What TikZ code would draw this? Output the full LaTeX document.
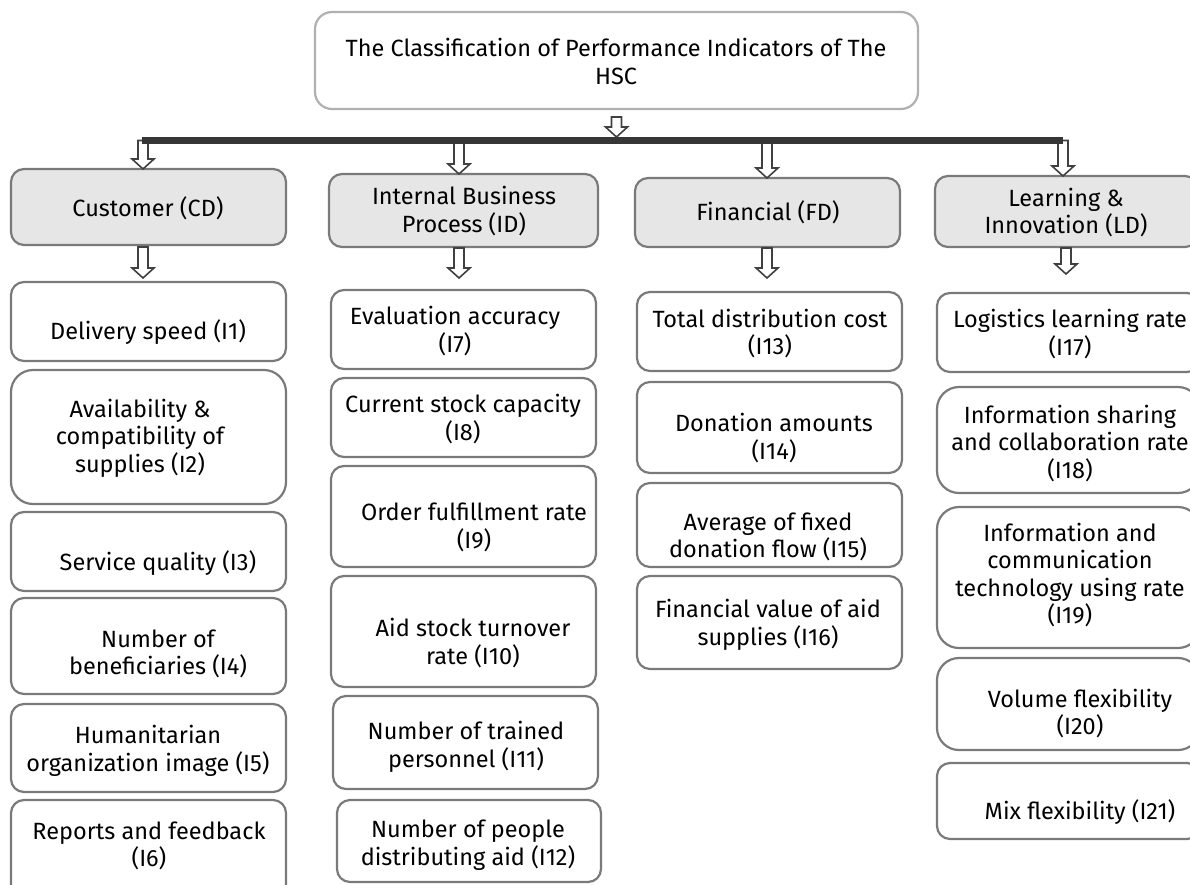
\documentclass[tikz,border=0pt]{standalone}
\usepackage{fontspec}
\setmainfont{Fira Sans}
\usetikzlibrary{calc}
\definecolor{boxgray}{HTML}{7A7A7A}
\definecolor{titlegray}{HTML}{B0B0B0}
\definecolor{hdrfill}{HTML}{E6E6E6}
\definecolor{bargray}{HTML}{363636}
\definecolor{arrgray}{HTML}{404040}
\newcommand\mkbox[6]{\node[#6, minimum width={(#4)-(#2)}, minimum height={(#5)-(#3)}] (#1) at ({((#2)+(#4))/2},{((#3)+(#5))/2}) {};}
\newcommand\mktxt[4]{\node[txt] (#1) at (#2,#3) {#4};}
\newcommand\blkarrow[2]{\draw[blockarr] let \p1=#1, \p2=#2 in (\x1-5pt,\y1) -- (\x1+5pt,\y1) -- (\x1+5pt,\y2+10pt) -- (\x1+11pt,\y2+10pt) -- (\x1,\y2) -- (\x1-11pt,\y2+10pt) -- (\x1-5pt,\y2+10pt) -- cycle;}
\begin{document}
\begin{tikzpicture}[x=1pt,y=-1pt,
  box/.style={draw=boxgray, line width=2.2pt, rounded corners=13pt, fill=white, inner sep=0pt, outer sep=0pt},
  bigbox/.style={box, rounded corners=22pt},
  hdr/.style={box, fill=hdrfill},
  ttl/.style={box, draw=titlegray, rounded corners=17pt},
  txt/.style={align=center, inner sep=0pt, font=\fontsize{23.5}{27.5}\selectfont},
  blockarr/.style={draw=arrgray, line width=1.6pt, fill=white, line join=miter},
  bar/.style={draw=bargray, line width=6.5pt}]
\useasboundingbox (0,0) rectangle (1190,884);
\clip (0,0) rectangle (1190,884);
% title
\mkbox{T}{315}{12}{918}{109}{ttl}
\mktxt{Tt}{616}{61.5}{The Classification of Performance Indicators of The\\HSC}
% headers
\mkbox{CD}{11}{169}{286}{245}{hdr}
\mktxt{CDt}{148}{208}{Customer (CD)}
\mkbox{ID}{329}{174}{598}{247}{hdr}
\mktxt{IDt}{464}{211}{Internal Business\\Process (ID)}
\mkbox{FD}{635}{178}{900}{247}{hdr}
\mktxt{FDt}{768}{212}{Financial (FD)}
\mkbox{LD}{935}{176}{1198}{247}{hdr}
\mktxt{LDt}{1066}{212.5}{Learning \&\\Innovation (LD)}
% column 1
\mkbox{I1}{11}{282}{286}{361}{box}
\mktxt{I1t}{148}{332}{Delivery speed (I1)}
\mkbox{I2}{11}{370}{286}{504}{bigbox}
\mktxt{I2t}{140}{438}{Availability \&\\compatibility of\\supplies (I2)}
\mkbox{I3}{11}{512}{286}{591}{box}
\mktxt{I3t}{158}{563}{Service quality (I3)}
\mkbox{I4}{11}{598}{286}{694}{box}
\mktxt{I4t}{158}{654}{Number of\\beneficiaries (I4)}
\mkbox{I5}{11}{704}{286}{792}{box}
\mktxt{I5t}{148}{751}{Humanitarian\\organization image (I5)}
\mkbox{I6}{11}{800}{286}{900}{box}
\mktxt{I6t}{149}{846}{Reports and feedback\\(I6)}
% column 2
\mkbox{I7}{331}{290}{596}{369}{box}
\mktxt{I7t}{455}{331}{Evaluation accuracy\\(I7)}
\mkbox{I8}{331}{378}{596}{457}{box}
\mktxt{I8t}{463}{419}{Current stock capacity\\(I8)}
\mkbox{I9}{331}{466}{596}{567}{box}
\mktxt{I9t}{474}{527.5}{Order fulfillment rate\\(I9)}
\mkbox{I10}{331}{576}{596}{687}{box}
\mktxt{I10t}{473}{643}{Aid stock turnover\\rate (I10)}
\mkbox{I11}{333}{696}{598}{789}{box}
\mktxt{I11t}{466}{747}{Number of trained\\personnel (I11)}
\mkbox{I12}{337}{800}{601}{882}{box}
\mktxt{I12t}{468}{845}{Number of people\\distributing aid (I12)}
% column 3
\mkbox{I13}{637}{292}{902}{371}{box}
\mktxt{I13t}{770}{333.5}{Total distribution cost\\(I13)}
\mkbox{I14}{637}{382}{902}{473}{box}
\mktxt{I14t}{774}{438}{Donation amounts\\(I14)}
\mkbox{I15}{637}{483}{902}{567}{box}
\mktxt{I15t}{768}{537}{Average of fixed\\donation flow (I15)}
\mkbox{I16}{637}{576}{902}{669}{box}
\mktxt{I16t}{768}{625}{Financial value of aid\\supplies (I16)}
% column 4
\mkbox{I17}{937}{293}{1200}{372}{box}
\mktxt{I17t}{1070}{334}{Logistics learning rate\\(I17)}
\mkbox{I18}{937}{387}{1200}{493}{bigbox}
\mktxt{I18t}{1070}{443.5}{Information sharing\\and collaboration rate\\(I18)}
\mkbox{I19}{937}{507}{1200}{648}{bigbox}
\mktxt{I19t}{1070}{575}{Information and\\communication\\technology using rate\\(I19)}
\mkbox{I20}{937}{658}{1200}{750}{bigbox}
\mktxt{I20t}{1080}{713.5}{Volume flexibility\\(I20)}
\mkbox{I21}{937}{763}{1200}{839}{box}
\mktxt{I21t}{1080}{812}{Mix flexibility (I21)}
% bar and arrows
\coordinate (barL) at (142,140.5);
\coordinate (barR) at (1063,140.5);
\coordinate (aCD) at (143,140.5);
\coordinate (aID) at (459,140.5);
\coordinate (aFD) at (767,140.5);
\coordinate (aLD) at (1063,140.5);
\coordinate (bLD) at (1066,248);
\blkarrow{($(T.south)+(0,8)$)}{($(T.south |- barL)+(0,-3.5)$)}
\blkarrow{(aCD)}{(aCD |- CD.north)}
\blkarrow{(aID)}{(aID |- ID.north)}
\blkarrow{(aFD)}{(aFD |- FD.north)}
\blkarrow{(aLD)}{(aLD |- LD.north)}
\draw[bar] (barL) -- (barR);
\blkarrow{($(aCD |- CD.south)+(0,2)$)}{($(aCD |- I1.north)+(0,-4)$)}
\blkarrow{($(aID |- ID.south)+(0,1)$)}{($(aID |- I7.north)+(0,-12)$)}
\blkarrow{($(aFD |- FD.south)+(0,1)$)}{($(aFD |- I13.north)+(0,-14)$)}
\blkarrow{($(bLD |- LD.south)+(0,1)$)}{($(bLD |- I17.north)+(0,-19)$)}
\end{tikzpicture}
\end{document}
